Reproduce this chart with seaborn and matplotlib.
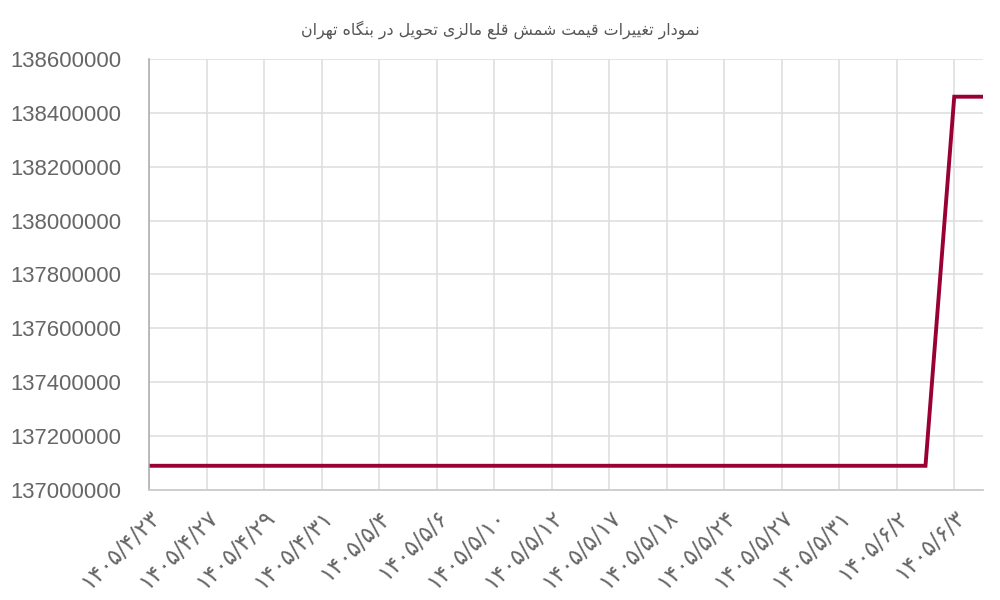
import matplotlib
matplotlib.use("Agg")
import matplotlib.pyplot as plt
import seaborn as sns
import pandas as pd

# ---------------- data ----------------
title_text = "نمودار تغییرات قیمت شمش قلع مالزی تحویل در بنگاه تهران"
tick_labels = ["۱۴۰۵/۴/۲۳", "۱۴۰۵/۴/۲۷", "۱۴۰۵/۴/۲۹", "۱۴۰۵/۴/۳۱", "۱۴۰۵/۵/۴",
               "۱۴۰۵/۵/۶", "۱۴۰۵/۵/۱۰", "۱۴۰۵/۵/۱۲", "۱۴۰۵/۵/۱۷", "۱۴۰۵/۵/۱۸",
               "۱۴۰۵/۵/۲۴", "۱۴۰۵/۵/۲۷", "۱۴۰۵/۵/۳۱", "۱۴۰۵/۶/۲", "۱۴۰۵/۶/۳"]
point_index = list(range(30))
prices = [137090000] * 28 + [138460000] * 2
y_ticks = [137000000, 137200000, 137400000, 137600000, 137800000,
           138000000, 138200000, 138400000, 138600000]

# ------------- simple Arabic/Persian shaping for display -------------
FORMS = {
    "ا": ("\uFE8D", "\uFE8E", None, None),
    "ب": ("\uFE8F", "\uFE90", "\uFE91", "\uFE92"),
    "ت": ("\uFE95", "\uFE96", "\uFE97", "\uFE98"),
    "ح": ("\uFEA1", "\uFEA2", "\uFEA3", "\uFEA4"),
    "د": ("\uFEA9", "\uFEAA", None, None),
    "ر": ("\uFEAD", "\uFEAE", None, None),
    "ز": ("\uFEAF", "\uFEB0", None, None),
    "ش": ("\uFEB5", "\uFEB6", "\uFEB7", "\uFEB8"),
    "ع": ("\uFEC9", "\uFECA", "\uFECB", "\uFECC"),
    "غ": ("\uFECD", "\uFECE", "\uFECF", "\uFED0"),
    "ق": ("\uFED5", "\uFED6", "\uFED7", "\uFED8"),
    "ل": ("\uFEDD", "\uFEDE", "\uFEDF", "\uFEE0"),
    "م": ("\uFEE1", "\uFEE2", "\uFEE3", "\uFEE4"),
    "ن": ("\uFEE5", "\uFEE6", "\uFEE7", "\uFEE8"),
    "ه": ("\uFEE9", "\uFEEA", "\uFEEB", "\uFEEC"),
    "و": ("\uFEED", "\uFEEE", None, None),
    "ی": ("\uFBFC", "\uFBFD", "\uFBFE", "\uFBFF"),
    "گ": ("\uFB92", "\uFB93", "\uFB94", "\uFB95"),
}


def shape(text):
    out = []
    n = len(text)
    for i, ch in enumerate(text):
        if ch not in FORMS:
            out.append(ch)
            continue
        iso, fin, ini, med = FORMS[ch]
        prev = text[i - 1] if i > 0 else None
        nxt = text[i + 1] if i < n - 1 else None
        jp = prev in FORMS and FORMS[prev][2] is not None
        jn = ini is not None and nxt in FORMS
        if jp and jn:
            out.append(med)
        elif jp:
            out.append(fin)
        elif jn:
            out.append(ini)
        else:
            out.append(iso)
    return "".join(reversed(out))


# ---------------- plot ----------------
sns.set_style("white")
plt.rcParams["font.family"] = ["Liberation Sans", "DejaVu Sans"]

df = pd.DataFrame({"idx": point_index, "price": prices})

fig = plt.figure(figsize=(10, 6), dpi=100)
ax = fig.add_axes([0.149, 0.1833, 0.834, 0.7184])

sns.lineplot(data=df, x="idx", y="price", ax=ax, color="#990036",
             linewidth=2.8, solid_joinstyle="miter", solid_capstyle="butt")

grid_c = "#dddddd"
ax.set_xlim(0, 29)
ax.set_ylim(137000000, 138600000)
ax.set_yticks(y_ticks)
ax.set_yticklabels([str(v) for v in y_ticks])
ax.set_xticks(point_index[::2])
ax.set_xticklabels(tick_labels, rotation=45, ha="right", va="top",
                   rotation_mode="anchor", family=["DejaVu Sans"])

ax.grid(True, color=grid_c, linewidth=1.1)
ax.set_axisbelow(True)
ax.tick_params(axis="y", length=19, width=1.1, color=grid_c, labelsize=15.9,
               labelcolor="#666666", pad=1)
ax.tick_params(axis="x", length=7, width=1.1, color=grid_c, labelsize=16.5,
               labelcolor="#666666", pad=4)
for s in ["top", "right"]:
    ax.spines[s].set_visible(False)
ax.spines["left"].set_color("#aaaaaa")
ax.spines["bottom"].set_color("#cccccc")
ax.spines["left"].set_linewidth(1.1)
ax.spines["bottom"].set_linewidth(1.3)
ax.set_xlabel("")
ax.set_ylabel("")

fig.text(0.5, 0.95, shape(title_text), ha="center", va="center",
         fontsize=11.4, color="#555555", family=["DejaVu Sans"])

fig.savefig("out.png", dpi=100)
